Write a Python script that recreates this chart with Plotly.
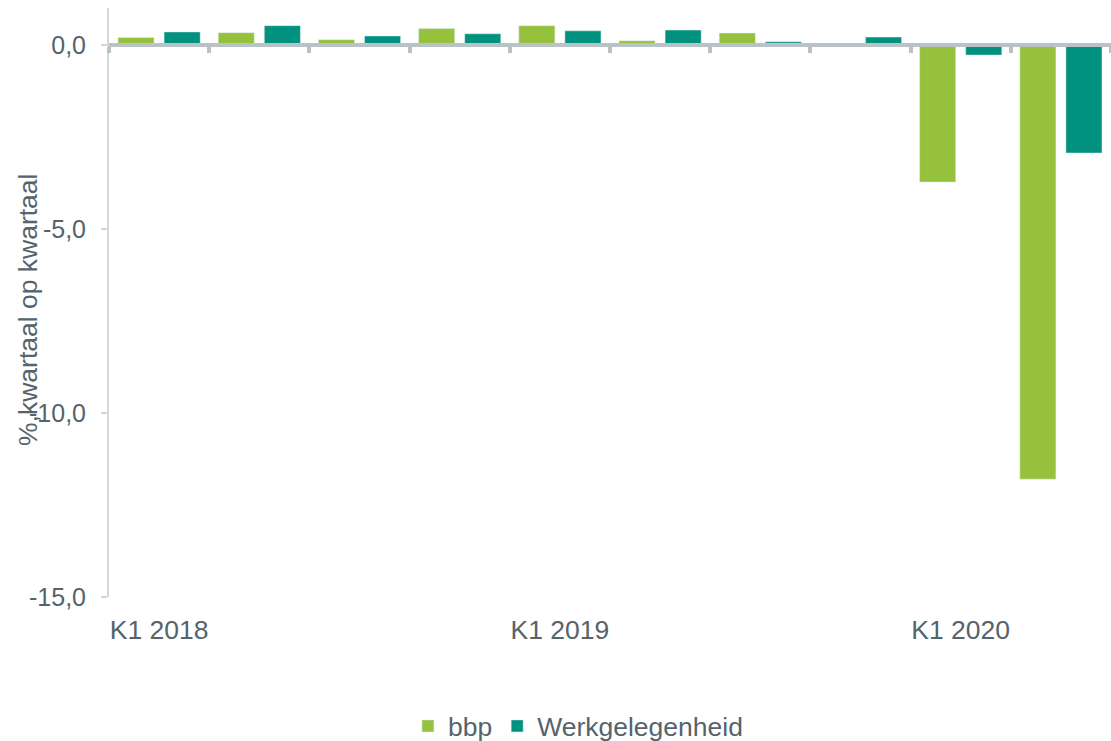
import plotly.graph_objects as go

quarters = ["K1 2018", "K2 2018", "K3 2018", "K4 2018",
            "K1 2019", "K2 2019", "K3 2019", "K4 2019",
            "K1 2020", "K2 2020"]
bbp = [0.2, 0.33, 0.14, 0.44, 0.52, 0.11, 0.32, 0.0, -3.73, -11.8]
werkgelegenheid = [0.35, 0.52, 0.24, 0.3, 0.38, 0.4, 0.08, 0.21, -0.28, -2.94]

y_ticks = [0, -5, -10, -15]
y_ticktext = ["0,0", "-5,0", "-10,0", "-15,0"]
x_label_vals = ["K1 2018", "K1 2019", "K1 2020"]
y_title = "%,kwartaal op kwartaal"

TEXT = "#55636C"
FONT = "Liberation Sans, Arial, sans-serif"
AXIS_GRAY = "#B9C2C6"

fig = go.Figure()
fig.add_trace(go.Bar(x=quarters, y=bbp, name="bbp", marker_color="#96C13D"))
fig.add_trace(go.Bar(x=quarters, y=werkgelegenheid, name="Werkgelegenheid",
                     marker_color="#00917F"))
# helper trace so the zero-line axis (x2) is rendered
fig.add_trace(go.Scatter(x=[None], y=[None], xaxis="x2", yaxis="y",
                         showlegend=False, hoverinfo="skip", mode="markers"))

y_min, y_max = -15, 1.0
zero_pos = (0 - y_min) / (y_max - y_min)
n = len(quarters)

fig.update_layout(
    width=1111, height=741,
    margin=dict(l=109, r=0, t=8, b=144),
    paper_bgcolor="white", plot_bgcolor="white",
    font=dict(family=FONT, size=26.5, color=TEXT),
    barmode="group", bargap=0.08, bargroupgap=0.217,
    showlegend=True,
    legend=dict(orientation="h", x=0.468, xanchor="center",
                yref="container", y=0.02, yanchor="middle",
                font=dict(size=26.5, color=TEXT), itemwidth=30),
    xaxis=dict(type="category", categoryorder="array", categoryarray=quarters,
               range=[-0.5, n - 0.5],
               tickvals=x_label_vals, ticktext=x_label_vals,
               ticks="", showline=False, showgrid=False, zeroline=False,
               ticklabelstandoff=14, tickfont=dict(size=26.5, color=TEXT)),
    xaxis2=dict(overlaying="x", anchor="free", position=zero_pos, side="bottom",
                range=[-0.5, n - 0.5],
                tickvals=[i - 0.5 for i in range(n + 1)],
                showticklabels=False, ticks="outside", ticklen=6, tickwidth=4,
                tickcolor=AXIS_GRAY, showline=True, linecolor=AXIS_GRAY, linewidth=4,
                showgrid=False, zeroline=False),
    yaxis=dict(range=[y_min, y_max], tickvals=y_ticks, ticktext=y_ticktext,
               showgrid=False, zeroline=False, showline=True, linecolor="#D3D8DB",
               linewidth=2, ticks="outside", ticklen=6, tickwidth=2, tickcolor="#D3D8DB",
               ticklabelstandoff=10, tickfont=dict(size=25, color=TEXT)),
    annotations=[dict(text=y_title, textangle=-90, xref="paper", yref="paper",
                      x=-0.081, y=0.487, xanchor="center", yanchor="middle",
                      showarrow=False, font=dict(size=26.5, color=TEXT))],
)

fig.write_html("out.html", config={"displayModeBar": False},
               post_script="document.body.style.margin='0';document.body.style.overflow='hidden';")
